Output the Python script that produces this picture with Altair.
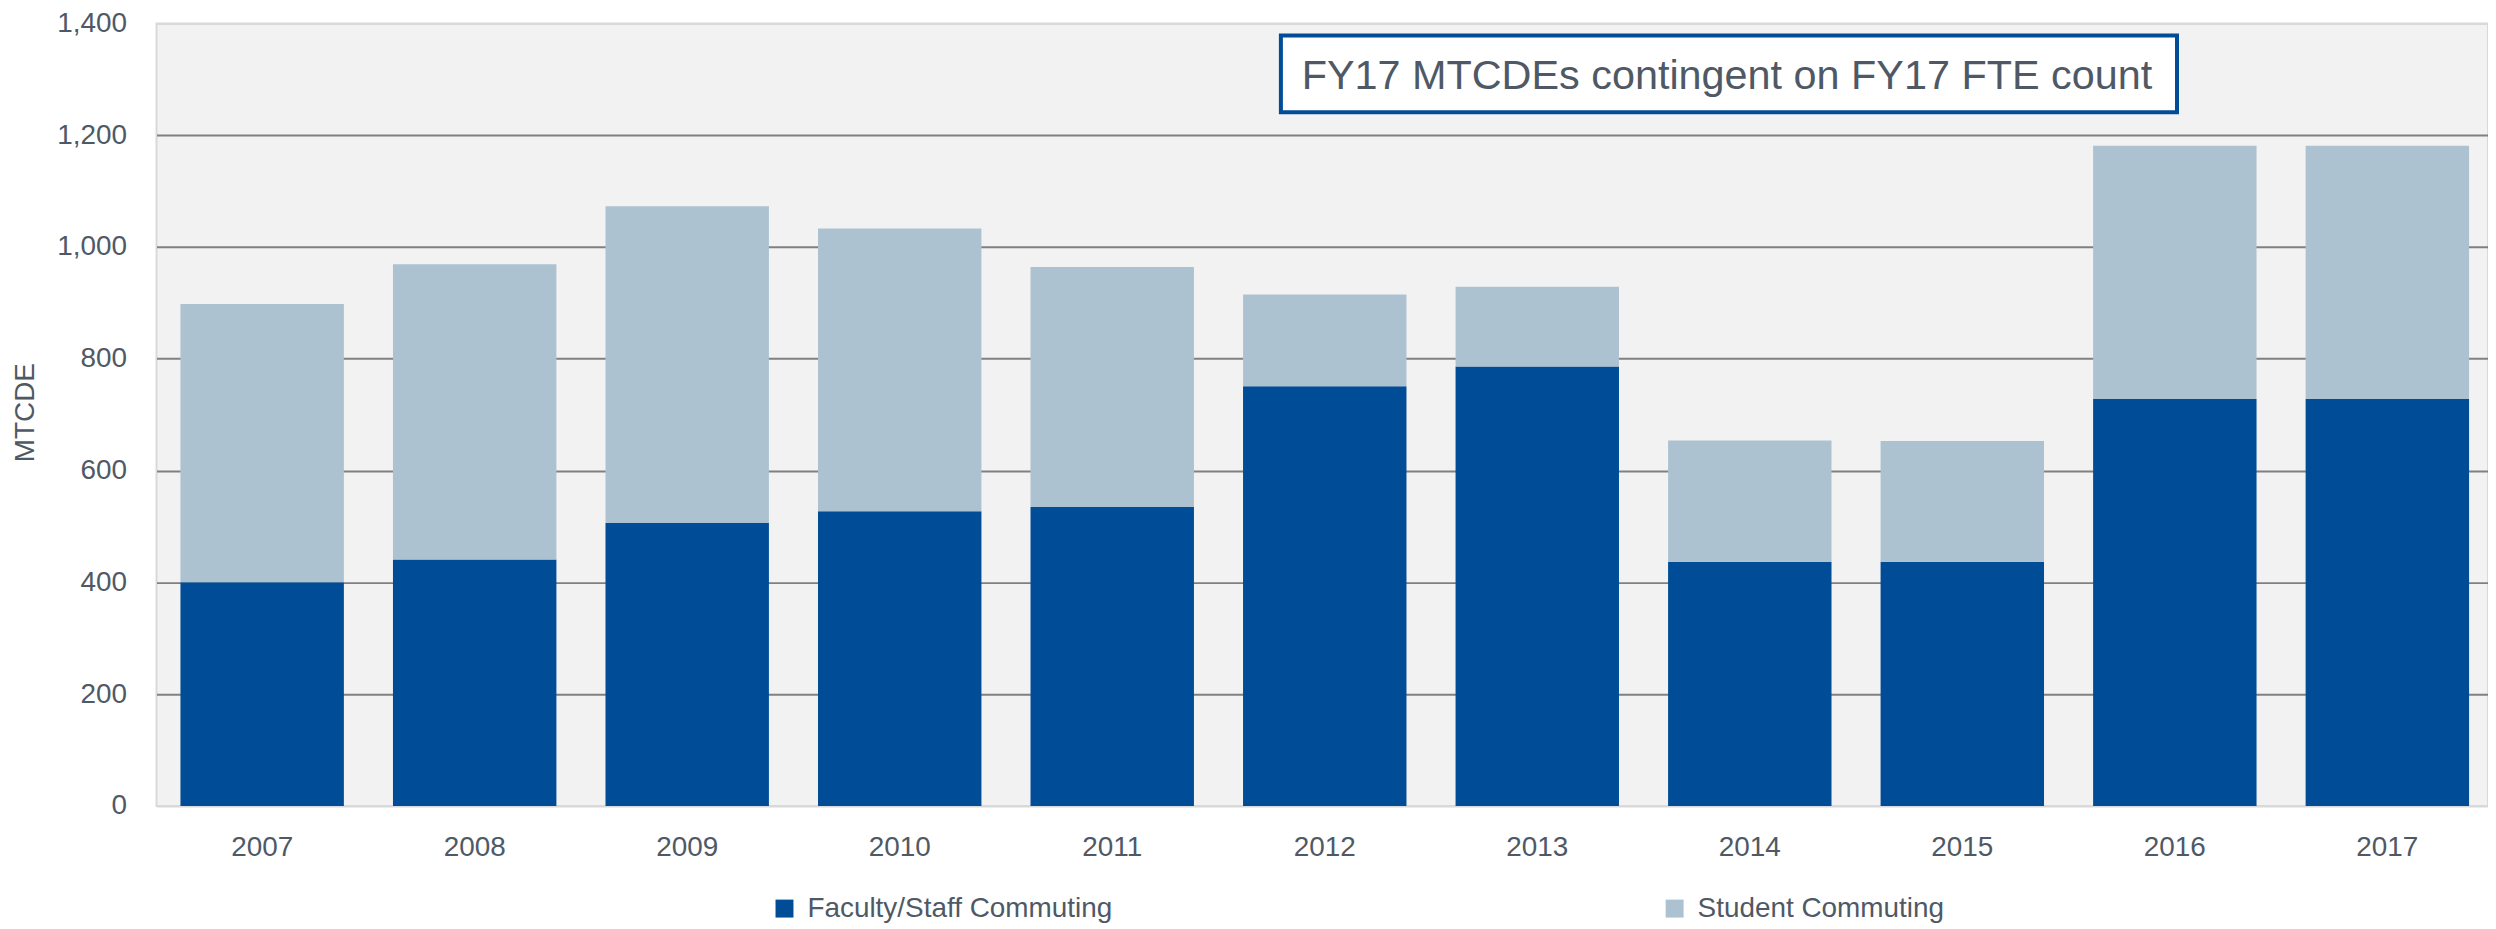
import altair as alt
import pandas as pd

years = ["2007", "2008", "2009", "2010", "2011", "2012", "2013", "2014", "2015", "2016", "2017"]
faculty_staff = [400, 441, 506, 527, 535, 751, 786, 437, 437, 728, 728]
student = [498, 528, 567, 506, 429, 164, 143, 217, 216, 453, 453]
series_names = ["Faculty/Staff Commuting", "Student Commuting"]
series_colors = ["#004C97", "#ADC2D0"]
y_ticks = [0, 200, 400, 600, 800, 1000, 1200, 1400]
note = "FY17 MTCDEs contingent on FY17 FTE count"

rows = []
for i, yr in enumerate(years):
    rows.append({"year": yr, "series": series_names[0], "value": faculty_staff[i], "ord": 0})
    rows.append({"year": yr, "series": series_names[1], "value": student[i], "ord": 1})
df = pd.DataFrame(rows)

FONT = "Liberation Sans"
TXT = "#4F5966"

bars = alt.Chart(df).mark_bar().encode(
    x=alt.X(
        "year:N",
        sort=years,
        scale=alt.Scale(paddingInner=0.231, paddingOuter=0.1126, range=[0, 2344]),
        axis=alt.Axis(title=None, ticks=False, domain=False, labelPadding=28,
                      labelFontSize=28, labelColor=TXT, labelFont=FONT, labelAngle=0),
    ),
    y=alt.Y(
        "value:Q",
        stack="zero",
        scale=alt.Scale(domain=[0, 1400], nice=False),
        axis=alt.Axis(
            values=y_ticks, format=",.0f", title="MTCDE", ticks=False, domain=False,
            labelPadding=30, labelFontSize=28, labelColor=TXT, labelFont=FONT,
            gridColor={"condition": {"test": "datum.value === 0 || datum.value === 1400",
                                     "value": "#D9D9D9"}, "value": "#808080"},
            gridWidth=2,
            titleX=-131, titleY=390, titleAngle=270, titleAlign="center",
            titleBaseline="middle", titleFontSize=28, titleFontWeight="normal",
            titleColor=TXT, titleFont=FONT,
        ),
    ),
    color=alt.Color(
        "series:N",
        scale=alt.Scale(domain=series_names, range=series_colors),
        legend=alt.Legend(
            title=None, orient="none", legendX=616, legendY=874, direction="horizontal",
            symbolType="square", symbolSize=324, symbolStrokeWidth=0, symbolOpacity=1,
            labelFontSize=28, labelColor=TXT, labelFont=FONT, labelOffset=9,
            labelLimit=800, columnPadding=549, padding=0,
        ),
    ),
    order=alt.Order("ord:Q"),
)

note_df = pd.DataFrame({"t": [note]})
box = alt.Chart(note_df).mark_rect(fill="white", stroke="#004C97", strokeWidth=4).encode(
    x=alt.value(1128), x2=alt.value(2027), y=alt.value(12), y2=alt.value(89)
)
label = alt.Chart(note_df).mark_text(
    font=FONT, fontSize=41.5, color=TXT, align="center", baseline="alphabetic"
).encode(x=alt.value(1575.5), y=alt.value(66), text="t:N")

chart = alt.layer(bars, box, label).properties(
    width=2339,
    height=785,
    autosize=alt.AutoSizeParams(type="none"),
    padding={"left": 149, "top": 14, "right": 0, "bottom": 120},
).configure(background="white").configure_view(
    fill="#F2F2F2", stroke="#D9D9D9", strokeWidth=2
)

chart.save("out.html", embed_options={"renderer": "svg", "actions": False})
